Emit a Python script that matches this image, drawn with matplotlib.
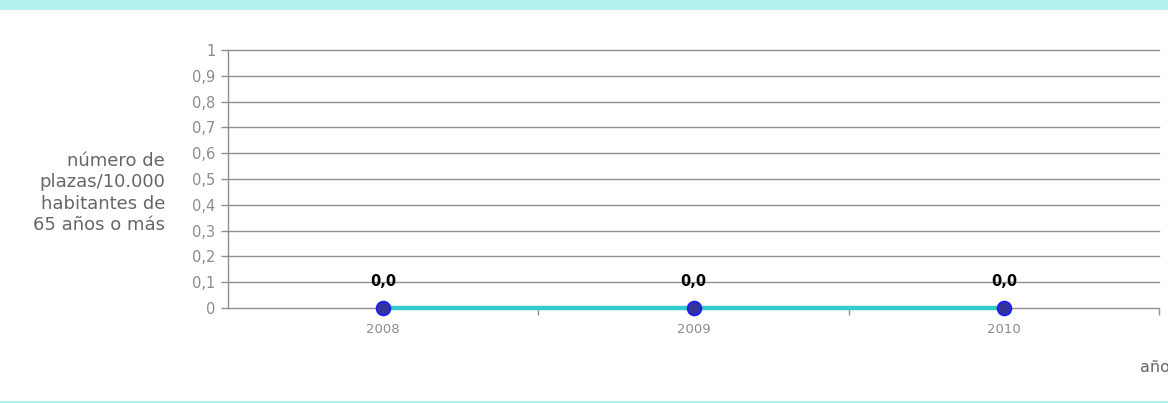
import matplotlib.pyplot as plt
from matplotlib.patches import Rectangle
from matplotlib.lines import Line2D

# chart data
years = ['2008', '2009', '2010']
plazas = [0.0, 0.0, 0.0]
yticks = [0, 0.1, 0.2, 0.3, 0.4, 0.5, 0.6, 0.7, 0.8, 0.9, 1]
ytick_labels = ['0', '0,1', '0,2', '0,3', '0,4', '0,5', '0,6', '0,7', '0,8', '0,9', '1']

grey = '#8c8c8c'
fig = plt.figure(figsize=(11.68, 4.03), dpi=100)

# top band and bottom rule
fig.patches.append(Rectangle((0, 1 - 10 / 403), 1, 10 / 403, transform=fig.transFigure,
                             facecolor='#b3f0f0', edgecolor='none'))
fig.lines.append(Line2D([0, 1], [1.5 / 403, 1.5 / 403], transform=fig.transFigure,
                        color='#b3f0f0', linewidth=1.5))

ax = fig.add_axes([228 / 1168, 95 / 403, 931 / 1168, 258 / 403])
x = list(range(len(years)))
ax.set_xlim(-0.5, len(years) - 0.5)
ax.set_ylim(0, 1)

for y in yticks:
    ax.axhline(y, color='#8f8f8f', linewidth=1.0, zorder=1, clip_on=False)

ax.plot(x, plazas, color='#33cccc', linewidth=3.2, zorder=2, solid_capstyle='butt',
        clip_on=False)
ax.plot(x, plazas, linestyle='none', marker='o', markersize=10,
        markerfacecolor='#333399', markeredgecolor='#1a1aff', markeredgewidth=1.2,
        zorder=3, clip_on=False)
for xi, v in zip(x, plazas):
    ax.annotate(('%.1f' % v).replace('.', ','), (xi, v), xytext=(0, 19),
                textcoords='offset points', ha='center', va='center',
                fontsize=10.5, fontweight='bold', color='black')

ax.set_yticks(yticks)
ax.set_yticklabels(ytick_labels)
ax.set_xticks(x)
ax.set_xticklabels(years)
ax.set_xticks([i + 0.5 for i in x], minor=True)
ax.tick_params(axis='x', which='major', length=0, pad=11, labelsize=9.5, labelcolor=grey)
ax.tick_params(axis='x', which='minor', length=5, color='#8f8f8f', width=1.0)
ax.tick_params(axis='y', length=5, color='#8f8f8f', width=1.0, labelsize=10.5,
               labelcolor=grey, pad=4)

for s in ['top', 'right', 'bottom']:
    ax.spines[s].set_visible(False)
ax.spines['left'].set_color('#8f8f8f')
ax.spines['left'].set_linewidth(1.0)

fig.text(165 / 1168, 1 - 193 / 403, 'número de\nplazas/10.000\nhabitantes de\n65 años o más',
         ha='right', va='center', fontsize=13, color='#666666', linespacing=1.25)
fig.text(1140 / 1168, 1 - 368 / 403, 'años', ha='left', va='center',
         fontsize=11.5, color='#666666')

fig.savefig('out.png', dpi=100)
